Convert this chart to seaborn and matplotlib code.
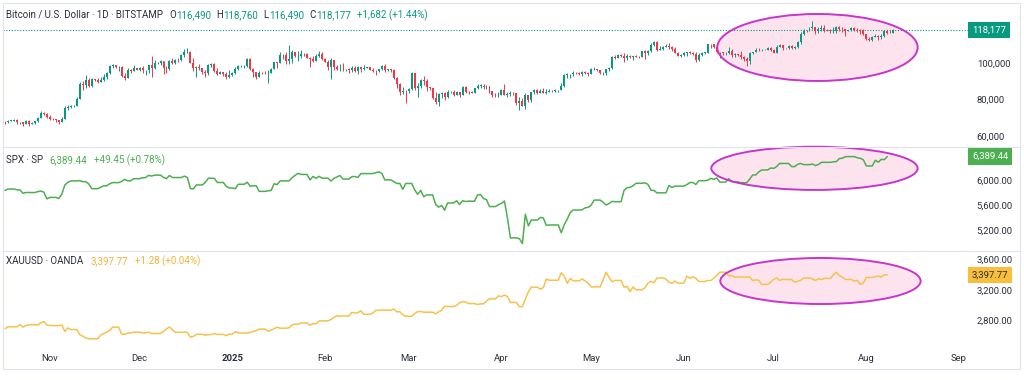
import numpy as np
import pandas as pd
import matplotlib
matplotlib.use('Agg')
import matplotlib.pyplot as plt
import matplotlib.dates as mdates
from matplotlib.patches import Ellipse
from matplotlib.lines import Line2D
from matplotlib.ticker import FuncFormatter, FixedLocator
import seaborn as sns

# ---- data (BTC in thousands USD) ----
btc_start = '2024-10-17'
btc_first_open = 67.6
btc_close = [
    67.4, 68.4, 68.4, 69.0, 67.4, 67.4, 66.7, 68.2, 66.6, 67.0, 68.0, 69.9, 72.7, 72.3, 70.2,
    69.5, 69.3, 68.7, 67.8, 69.4, 75.6, 75.9, 76.5, 76.7, 80.5, 88.7, 88.0, 90.5, 87.3, 91.1,
    90.6, 89.8, 90.5, 92.3, 94.3, 98.3, 98.9, 97.7, 98.0, 93.0, 91.9, 95.9, 95.6, 97.5, 96.4,
    97.2, 95.9, 96.0, 98.8, 97.0, 99.9, 99.9, 101.2, 97.4, 96.7, 101.2, 100.0, 101.5, 101.4, 104.3,
    106.1, 106.1, 100.0, 97.5, 97.8, 97.2, 95.1, 94.7, 98.7, 99.4, 95.8, 94.2, 95.2, 93.7, 92.6, 93.4,
    94.4, 96.9, 98.1, 98.2, 98.3, 102.1, 96.9, 95.0, 92.5, 94.7, 94.6, 94.5, 94.5, 96.5, 100.5,
    99.8, 104.5, 104.4, 101.1, 102.0, 106.1, 103.7, 104.0, 104.8, 104.7, 102.6, 102.1, 101.3, 103.7, 104.7, 102.4,
    100.6, 97.7, 101.4, 97.9, 96.6, 96.6, 96.5, 96.5, 96.1, 97.4, 95.7, 97.8, 96.6, 97.5,
    97.6, 96.1, 95.8, 95.5, 96.6, 98.3, 96.1, 96.6, 96.3, 91.6, 88.7, 84.3, 84.7, 84.4,
    86.0, 94.3, 86.1, 87.2, 90.6, 89.9, 86.7, 86.2, 80.6, 78.5, 83.0, 83.7, 81.1, 84.0, 84.3,
    82.6, 84.1, 82.7, 86.9, 84.2, 84.0, 83.8, 86.1, 87.5, 87.5, 86.9, 87.2, 84.4, 82.6, 82.3, 82.5,
    85.2, 82.5, 83.1, 83.8, 83.5, 78.2, 79.2, 76.3, 82.6, 79.6, 84.0, 85.3, 83.7, 84.5, 83.7,
    84.0, 84.9, 84.5, 85.1, 85.2, 87.5, 93.4, 93.7, 93.9, 94.7, 94.6, 93.8, 95.0, 94.3, 94.2,
    96.5, 96.9, 95.9, 94.3, 94.7, 96.8, 97.0, 103.2, 102.9, 104.6, 104.1, 102.8, 104.1, 103.5, 103.7,
    103.5, 103.2, 106.5, 105.6, 106.8, 109.7, 111.7, 107.3, 107.8, 109.0, 109.4, 108.9, 107.8, 105.6, 103.9, 104.6,
    105.7, 105.8, 105.4, 104.7, 101.6, 104.4, 105.6, 105.7, 110.3, 110.2, 108.7, 105.9, 106.0, 105.4, 105.6,
    106.8, 104.6, 104.9, 104.6, 103.3, 102.1, 100.9, 105.4, 105.9, 107.3, 106.9, 107.1, 107.3, 108.4, 107.1,
    105.7, 108.8, 109.6, 108.0, 108.2, 109.2, 108.3, 108.9, 111.3, 115.9, 117.5, 117.4, 119.1, 119.8, 117.7,
    118.7, 119.4, 117.9, 117.9, 117.3, 117.4, 119.9, 118.5, 118.4, 117.6, 117.9, 119.4, 118.0, 117.9, 117.8, 115.7,
    113.3, 112.5, 114.2, 115.0, 114.1, 115.0, 117.5, 116.7, 116.49, 118.177,
]
btc_high = [
    68.0, 68.9, 68.7, 69.4, 69.5, 67.8, 67.5, 68.8, 68.8, 67.4, 68.3, 70.3, 73.6, 72.9, 72.7,
    71.6, 69.9, 69.4, 69.0, 70.6, 76.4, 76.9, 77.2, 76.9, 81.5, 89.6, 89.9, 93.4, 91.8, 91.8,
    91.4, 91.7, 92.6, 94.0, 94.9, 98.9, 99.6, 99.0, 98.5, 98.6, 94.7, 97.3, 96.6, 98.7, 97.5,
    97.9, 98.1, 96.3, 99.0, 103.9, 101.9, 100.5, 101.4, 101.3, 98.2, 101.9, 102.5, 102.0, 102.6, 105.1,
    107.8, 108.3, 106.5, 102.8, 98.2, 99.5, 97.3, 96.4, 99.4, 99.9, 99.9, 97.3, 95.5, 95.2, 94.9, 96.1,
    94.9, 97.8, 98.9, 98.7, 98.8, 102.5, 102.7, 97.3, 95.3, 95.8, 94.9, 95.4, 95.9, 97.3, 100.7,
    100.8, 105.8, 104.9, 106.3, 109.6, 107.2, 106.3, 106.8, 107.1, 105.3, 105.4, 103.2, 103.8, 104.8, 106.4, 106.0,
    102.8, 101.5, 102.5, 101.8, 99.0, 99.2, 100.1, 96.9, 97.3, 98.3, 98.5, 98.1, 97.9, 98.8,
    97.9, 97.7, 97.0, 96.0, 96.9, 98.8, 99.5, 96.9, 96.5, 96.6, 92.5, 89.3, 87.1, 85.1,
    86.5, 95.0, 94.4, 88.9, 91.0, 92.8, 91.3, 86.8, 86.5, 84.0, 83.6, 84.3, 84.3, 85.2, 84.7,
    85.0, 84.7, 84.1, 87.4, 87.4, 84.8, 84.5, 86.1, 88.6, 88.5, 88.3, 87.8, 87.5, 84.6, 83.5, 83.9,
    85.6, 88.5, 83.9, 84.7, 84.2, 83.8, 81.2, 80.8, 83.5, 82.7, 84.3, 85.8, 86.0, 85.8, 86.5,
    85.5, 85.5, 85.1, 85.6, 85.3, 88.8, 93.8, 94.7, 94.0, 95.7, 95.3, 95.2, 95.6, 95.4, 95.1,
    97.4, 97.9, 96.9, 96.3, 95.2, 96.9, 97.6, 104.0, 104.3, 104.9, 104.9, 105.7, 104.9, 104.3, 104.0,
    104.5, 103.6, 106.7, 107.0, 107.1, 110.7, 111.9, 111.8, 109.4, 109.3, 110.4, 110.7, 109.3, 108.9, 106.3, 104.9,
    105.9, 105.9, 106.8, 105.9, 105.9, 105.4, 105.9, 106.1, 110.6, 110.4, 110.4, 108.8, 106.2, 106.2, 106.0,
    108.9, 107.7, 105.5, 105.2, 106.5, 103.9, 103.1, 106.1, 106.3, 108.1, 108.0, 107.8, 107.6, 108.6, 108.8,
    107.6, 109.8, 110.6, 109.8, 108.4, 109.7, 109.7, 109.2, 112.0, 116.8, 118.9, 118.2, 119.5, 123.2, 119.9,
    119.7, 120.9, 120.9, 118.5, 118.9, 119.7, 120.2, 120.1, 119.5, 118.4, 118.3, 119.8, 119.8, 119.3, 118.8, 118.9,
    116.0, 114.0, 114.7, 115.7, 115.1, 115.7, 117.6, 117.7, 117.9, 118.76,
]
btc_low = [
    66.7, 67.1, 68.1, 68.1, 66.6, 66.7, 65.3, 66.5, 65.5, 66.5, 66.8, 67.6, 69.7, 71.4, 69.7,
    68.8, 69.0, 67.5, 66.8, 67.5, 69.3, 74.5, 75.6, 75.8, 76.5, 80.3, 85.1, 86.3, 86.7, 87.1,
    90.1, 88.8, 89.4, 90.4, 91.5, 94.1, 97.2, 97.3, 95.8, 92.6, 90.8, 91.8, 94.6, 95.4, 96.1,
    95.7, 94.5, 93.6, 94.7, 92.5, 96.5, 99.2, 98.7, 94.2, 94.3, 95.9, 99.4, 99.3, 100.6, 101.3,
    103.3, 105.3, 100.0, 95.6, 92.2, 96.4, 94.2, 92.4, 93.4, 97.6, 95.2, 93.4, 94.0, 93.0, 91.3, 92.0,
    92.8, 94.2, 96.0, 97.8, 97.3, 97.9, 96.1, 92.5, 91.2, 92.2, 93.8, 93.7, 89.3, 94.3, 96.5,
    97.3, 99.9, 102.3, 99.6, 99.5, 100.1, 103.3, 101.3, 102.7, 104.1, 102.5, 97.8, 100.3, 101.3, 103.3, 101.6,
    100.3, 96.2, 91.2, 96.2, 96.2, 95.7, 95.7, 95.7, 94.7, 95.3, 94.9, 94.1, 95.2, 96.3,
    97.3, 96.0, 95.3, 93.4, 95.2, 96.4, 94.8, 95.8, 95.2, 91.1, 86.1, 82.3, 83.0, 78.3,
    83.7, 85.1, 85.1, 81.5, 86.3, 87.8, 84.7, 85.3, 80.1, 77.5, 76.6, 80.9, 79.9, 80.8, 83.6,
    82.0, 82.5, 81.1, 82.6, 83.7, 83.2, 83.7, 83.7, 85.6, 86.3, 85.9, 85.8, 83.6, 81.6, 81.6, 81.3,
    82.4, 82.3, 81.2, 81.7, 82.4, 77.2, 74.4, 76.2, 74.6, 78.5, 78.9, 82.8, 82.8, 83.8, 83.6,
    83.0, 83.9, 84.3, 84.3, 83.9, 85.1, 87.1, 91.9, 91.7, 92.9, 93.9, 93.6, 92.9, 93.7, 92.9,
    94.1, 96.3, 95.7, 94.1, 93.5, 93.4, 95.8, 96.9, 102.3, 102.8, 103.3, 100.7, 101.5, 102.6, 101.4,
    103.1, 102.6, 103.1, 102.1, 104.2, 106.1, 109.3, 106.8, 106.9, 106.9, 108.6, 107.6, 106.8, 105.3, 103.7, 103.1,
    103.9, 103.7, 104.9, 104.4, 100.4, 101.1, 104.1, 105.0, 105.3, 108.4, 108.1, 105.7, 102.7, 104.6, 104.5,
    105.0, 103.4, 103.4, 103.9, 102.4, 100.9, 98.2, 99.6, 104.7, 105.9, 106.7, 106.4, 106.9, 107.2, 106.8,
    105.3, 105.6, 108.6, 107.3, 107.8, 107.9, 107.5, 107.5, 108.3, 110.6, 115.2, 116.9, 117.3, 118.9, 115.7,
    116.5, 117.8, 116.9, 117.5, 116.5, 116.6, 116.2, 117.3, 117.2, 114.7, 117.4, 117.8, 117.4, 117.1, 115.8, 115.6,
    112.7, 112.0, 111.9, 114.1, 112.6, 113.3, 114.3, 115.9, 116.3, 116.49,
]

# S&P 500 daily closes (trading days)
spx_holidays = ['2024-11-28', '2024-12-25', '2025-01-01', '2025-01-09', '2025-01-20',
                '2025-02-17', '2025-04-18', '2025-05-26', '2025-06-19', '2025-07-04']
spx_close = [
    5841, 5865, 5853, 5851, 5797, 5809, 5808, 5823, 5832, 5813, 5705,
    5729, 5712, 5783, 5929, 5973, 5996, 6001, 5984, 5985, 5949, 5871, 5894, 5917, 5917, 5949, 5969, 5987, 6021, 5998, 6032,
    6047, 6050, 6086, 6075, 6090, 6053, 6034, 6084, 6051, 6051, 6074, 6050, 5872, 5867, 5931, 5974, 6040, 6037, 5971, 5907, 5882,
    5869, 5942, 5975, 5909, 5918, 5827, 5836, 5843, 5950, 5937, 5997, 6049, 6086, 6119, 6101, 6012, 6068, 6039, 6071, 6041,
    5994, 6038, 6061, 6084, 6026, 6066, 6068, 6052, 6115, 6115, 6129, 6144, 6118, 6013, 5983, 5955, 5956, 5861, 5955,
    5850, 5779, 5843, 5739, 5770, 5615, 5572, 5599, 5522, 5639, 5675, 5615, 5675, 5663, 5668, 5768, 5777, 5712, 5693, 5581, 5612,
    5633, 5671, 5397, 5074, 5062, 4982, 5457, 5268, 5363, 5406, 5397, 5276, 5283, 5158, 5288, 5376, 5485, 5525, 5529, 5561, 5569,
    5604, 5686, 5650, 5607, 5631, 5664, 5660, 5844, 5886, 5892, 5917, 5958, 5964, 5940, 5845, 5842, 5803, 5922, 5889, 5912, 5912,
    5936, 5970, 5971, 5939, 6000, 6006, 6038, 6022, 6045, 5977, 6033, 5983, 5981, 5967, 6025, 6092, 6092, 6141, 6173, 6205,
    6198, 6227, 6279, 6230, 6226, 6263, 6280, 6260, 6269, 6244, 6264, 6297, 6297, 6306, 6309, 6359, 6363, 6389, 6390, 6371, 6362, 6339,
    6238, 6330, 6299, 6345, 6340, 6389.44,
]

# Gold daily closes (weekdays)
xau_holidays = ['2025-01-01']
xau_close = [
    2693, 2721, 2720, 2748, 2716, 2736, 2747, 2743, 2774, 2788, 2744,
    2736, 2736, 2743, 2659, 2706, 2685, 2619, 2598, 2573, 2565, 2563, 2612, 2631, 2651, 2670, 2716, 2625, 2622, 2637, 2639, 2650,
    2640, 2643, 2650, 2632, 2633, 2660, 2694, 2718, 2681, 2648, 2652, 2646, 2586, 2595, 2622, 2612, 2617, 2619, 2634, 2621, 2606, 2625,
    2658, 2640, 2636, 2648, 2662, 2670, 2690, 2663, 2677, 2697, 2714, 2702, 2708, 2745, 2755, 2754, 2770, 2740, 2763, 2760, 2794, 2798,
    2815, 2843, 2866, 2856, 2861, 2908, 2898, 2905, 2928, 2883, 2898, 2935, 2933, 2939, 2936, 2952, 2915, 2917, 2875, 2858,
    2893, 2918, 2920, 2910, 2910, 2889, 2915, 2934, 2988, 2984, 3000, 3034, 3048, 3044, 3023, 3011, 3020, 3018, 3057, 3085, 3124,
    3113, 3134, 3114, 3037, 2982, 2983, 3083, 3175, 3237, 3210, 3230, 3343, 3327, 3327, 3424, 3381, 3288, 3349, 3319, 3344, 3317, 3288,
    3239, 3241, 3334, 3431, 3364, 3306, 3325, 3236, 3248, 3178, 3240, 3202, 3230, 3290, 3314, 3295, 3357, 3342, 3300, 3288, 3317, 3289,
    3381, 3352, 3373, 3352, 3310, 3325, 3322, 3354, 3387, 3432, 3384, 3389, 3369, 3369, 3368, 3369, 3323, 3332, 3327, 3273, 3303,
    3338, 3357, 3326, 3337, 3336, 3301, 3313, 3325, 3355, 3343, 3324, 3347, 3338, 3350, 3397, 3431, 3387, 3368, 3337, 3314, 3326, 3274, 3290,
    3363, 3373, 3381, 3370, 3396, 3397.77,
]

# visible scale labels (120,000 and 6,400.00 sit under the last-price boxes)
btc_ticks = [60000, 80000, 100000]
spx_ticks = [5200, 5600, 6000]
xau_ticks = [2800, 3200, 3600]

assert len(btc_close) == len(btc_high) == len(btc_low), (len(btc_close), len(btc_high), len(btc_low))

# ---- style ----
UP, DOWN = '#089981', '#F23645'
SPX_C, XAU_C, XAU_TXT = '#4CAF50', '#F6C24C', '#F2B436'
TXT = '#2A2E39'
GRID = '#E0E3EB'
RING, RING_FILL = '#C935C9', '#FCE3EE'
FS = 6.8      # scale / date labels
FS_H = 7.0    # legend headers

sns.set_theme(style='white')
plt.rcParams['font.family'] = ['Roboto', 'DejaVu Sans']

W, H = 1024, 380
fig = plt.figure(figsize=(W / 100, H / 100), dpi=100)


def px_axes(top, bottom, left=3, right=968):
    return fig.add_axes([left / W, 1 - bottom / H, (right - left) / W, (bottom - top) / H])


ax1 = px_axes(5, 147)
ax2 = px_axes(148, 250)
ax3 = px_axes(251, 345)

# ---- bitcoin candles ----
btc = pd.DataFrame({
    'date': pd.date_range(btc_start, periods=len(btc_close), freq='D'),
    'close': np.array(btc_close) * 1000,
    'high': np.array(btc_high) * 1000,
    'low': np.array(btc_low) * 1000,
})
btc['open'] = np.r_[btc_first_open, btc_close[:-1]] * 1000
x_btc = mdates.date2num(btc['date'])
col = np.where(btc['close'] >= btc['open'], UP, DOWN)
top = np.maximum(btc['high'], btc[['open', 'close']].max(axis=1))
bot = np.minimum(btc['low'], btc[['open', 'close']].min(axis=1))
ax1.vlines(x_btc, bot, top, colors=col, lw=0.7, zorder=2)
body_lo = btc[['open', 'close']].min(axis=1)
body_h = np.maximum((btc['close'] - btc['open']).abs(), 180)
ax1.bar(x_btc, body_h, bottom=body_lo, width=0.66, color=col, linewidth=0, zorder=3)
last_btc = btc['close'].iloc[-1]
ax1.axhline(last_btc, color=UP, lw=0.8, ls=(0, (1, 1.5)), zorder=1)

# ---- SPX / gold lines (weekend gaps held flat like the chart) ----
def daily(values, holidays):
    idx = pd.bdate_range(btc_start, periods=len(values) + len(holidays))
    idx = idx.drop(pd.to_datetime(holidays))[:len(values)]
    s = pd.Series(values, index=idx)
    return s.reindex(pd.date_range(idx[0], idx[-1], freq='D')).ffill()

spx = daily(spx_close, spx_holidays)
xau = daily(xau_close, xau_holidays)
sns.lineplot(x=mdates.date2num(spx.index), y=spx.values, ax=ax2, color=SPX_C, lw=1.1, zorder=3)
sns.lineplot(x=mdates.date2num(xau.index), y=xau.values, ax=ax3, color=XAU_C, lw=1.1, zorder=3)

# ---- axes ----
xlim = (mdates.date2num(pd.Timestamp('2024-10-16 08:00')), mdates.date2num(pd.Timestamp('2025-09-04')))
limits = [(ax1, (53976, 131780), btc_ticks, '{:,.0f}'),
          (ax2, (4878, 6529), spx_ticks, '{:,.2f}'),
          (ax3, (2483, 3708), xau_ticks, '{:,.2f}')]
for ax, yl, ticks, fmt in limits:
    ax.set_xlim(xlim)
    ax.set_ylim(yl)
    ax.set_facecolor('none')
    for s in ax.spines.values():
        s.set_visible(False)
    ax.yaxis.tick_right()
    ax.yaxis.set_major_locator(FixedLocator(ticks))
    ax.yaxis.set_major_formatter(FuncFormatter(lambda v, p, f=fmt: f.format(v)))
    ax.tick_params(axis='y', length=0, pad=6.3, labelsize=FS, labelcolor=TXT)
    ax.tick_params(axis='x', length=0)
    ax.set_xlabel('')
    ax.set_ylabel('')
    ax.grid(False)
ax1.set_xticks([])
ax2.set_xticks([])
ax3.xaxis.set_major_locator(mdates.MonthLocator())
ax3.xaxis.set_major_formatter(FuncFormatter(
    lambda v, p: str(mdates.num2date(v).year) if mdates.num2date(v).month == 1 else mdates.num2date(v).strftime('%b')))
ax3.tick_params(axis='x', pad=6.2, labelsize=FS, labelcolor=TXT)

# ---- highlight ellipses ----
rings = [(ax1, '2025-07-15 16:00', 67, 108500, 36700),
         (ax2, '2025-07-14 16:00', 69, 6200, 700),
         (ax3, '2025-07-16 16:00', 67, 3317, 600)]
for ax, c, w, yc, h in rings:
    xc = mdates.date2num(pd.Timestamp(c))
    ax.add_patch(Ellipse((xc, yc), w, h, facecolor=RING_FILL, edgecolor='none', zorder=0.5, clip_on=False))
    ax.add_patch(Ellipse((xc, yc), w, h, facecolor='none', edgecolor=RING, lw=1.4, zorder=4, clip_on=False))

# ---- last price boxes ----
def price_box(ax, val, text, fc, tc):
    ax.annotate(text, xy=(1, val), xycoords=ax.get_yaxis_transform(), xytext=(4, 0),
                textcoords='offset pixels', ha='left', va='center', fontsize=FS, color=tc,
                bbox=dict(boxstyle='square,pad=0.4', fc=fc, ec='none'), zorder=10, annotation_clip=False)

price_box(ax1, last_btc, '118,177', UP, 'white')
price_box(ax2, spx.iloc[-1], '6,389.44', SPX_C, 'white')
price_box(ax3, xau.iloc[-1], '3,397.77', '#F9BE3A', TXT)

# ---- legends / headers ----
def header(ax, y_px, parts):
    t = fig.text(6 / W, 1 - y_px / H, parts[0][0], color=parts[0][1], fontsize=FS_H, ha='left', va='center')
    for s, c, gap in parts[1:]:
        t = ax.annotate(s, xy=(1, 0.5), xycoords=t, xytext=(gap, 0), textcoords='offset pixels',
                        ha='left', va='center', fontsize=FS_H, color=c, annotation_clip=False)

header(ax1, 15, [('Bitcoin / U.S. Dollar · 1D · BITSTAMP', TXT),
                 ('O', TXT, 6), ('116,490', UP, 0.5), ('H', TXT, 5), ('118,760', UP, 0.5),
                 ('L', TXT, 5), ('116,490', UP, 0.5), ('C', TXT, 5), ('118,177', UP, 0.5),
                 ('+1,682 (+1.44%)', UP, 6)])
header(ax2, 160, [('SPX · SP', TXT), ('6,389.44', SPX_C, 6), ('+49.45 (+0.78%)', SPX_C, 7)])
header(ax3, 261, [('XAUUSD · OANDA', TXT), ('3,397.77', XAU_TXT, 7), ('+1.28 (+0.04%)', XAU_TXT, 7)])

# ---- panel frame lines ----
for y in (3, 147.5, 250.5, 369):
    fig.add_artist(Line2D([3 / W, 1020 / W], [1 - y / H] * 2, color=GRID, lw=0.8))
for x in (3, 1020):
    fig.add_artist(Line2D([x / W] * 2, [1 - 3 / H, 1 - 369 / H], color=GRID, lw=0.8))

fig.canvas.draw()
for lbl in ax3.get_xticklabels():
    if lbl.get_text() == '2025':
        lbl.set_fontweight('bold')

fig.savefig('out.png', dpi=100, facecolor='white')
